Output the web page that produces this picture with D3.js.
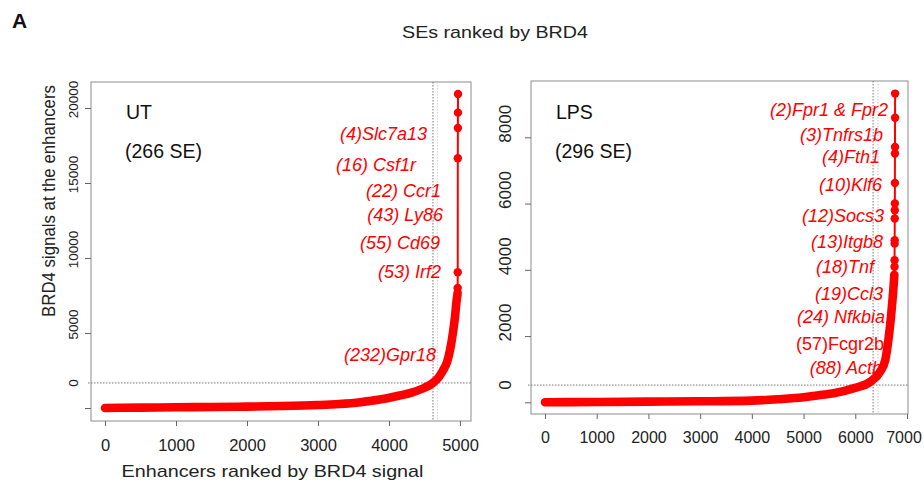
<!DOCTYPE html>
<html>
<head>
<meta charset="utf-8">
<script src="https://cdn.jsdelivr.net/npm/d3@7"></script>
<style>
body { margin: 0; background: #fff; }
svg { display: block; font-family: "Liberation Sans", Arial, sans-serif; }
</style>
</head>
<body>
<div id="chart"></div>
<script>
// UT panel: enhancers ranked by BRD4 signal
var utRank = [0, 500, 1000, 1500, 2000, 2500, 3000, 3300, 3600, 3870, 4100, 4340, 4500, 4620, 4700, 4760, 4820, 4860, 4900, 4930, 4953, 4962, 4966];
var utSignal = [0, 25, 45, 65, 90, 130, 200, 270, 390, 560, 780, 1060, 1350, 1680, 2050, 2500, 3100, 3870, 5000, 6100, 7200, 7500, 7670];
var utTopRank = [4967, 4968, 4969, 4970, 4971, 4972];
var utTopSignal = [8000, 9050, 16650, 18670, 19690, 20930];
var utXTicks = [0, 1000, 2000, 3000, 4000, 5000];
var utYTicks = [0, 5000, 10000, 15000, 20000];
var utThreshold = 1670;
var utCutRank = [4620, 4680];
var utGenes = ["(4)Slc7a13", "(16) Csf1r", "(22) Ccr1", "(43) Ly86", "(55) Cd69", "(53) Irf2", "(232)Gpr18"];
var utGeneRank = [4535, 4380, 4732, 4761, 4718, 4732, 4662];
var utGeneSignal = [17887, 15820, 14087, 12487, 10620, 8687, 3153];
var utGeneItalic = [true, true, true, true, true, true, true];

// LPS panel
var lpsRank = [0, 1000, 2000, 3000, 4000, 4500, 5000, 5320, 5580, 5960, 6290, 6480, 6580, 6640, 6690, 6720, 6745, 6755];
var lpsSignal = [0, 10, 20, 30, 50, 90, 150, 220, 270, 420, 620, 920, 1280, 1880, 2580, 3100, 3600, 3850];
var lpsTopRank = [6759, 6760, 6761, 6762, 6763, 6764, 6765, 6766, 6767, 6768, 6769, 6770];
var lpsTopSignal = [4090, 4290, 4790, 4890, 5550, 5800, 6000, 6620, 7510, 7710, 8590, 9320];
var lpsXTicks = [0, 1000, 2000, 3000, 4000, 5000, 6000, 7000];
var lpsYTicks = [0, 2000, 4000, 6000, 8000];
var lpsThreshold = 520;
var lpsCutRank = [6344, 6441];
var lpsGenes = ["(2)Fpr1 & Fpr2", "(3)Tnfrs1b", "(4)Fth1", "(10)Klf6", "(12)Socs3", "(13)Itgb8", "(18)Tnf", "(19)Ccl3", "(24) Nfkbia", "(57)Fcgr2b", "(88) Actb"];
var lpsGeneRank = [6634, 6538, 6480, 6518, 6557, 6538, 6364, 6538, 6576, 6557, 6518];
var lpsGeneSignal = [8652, 7897, 7233, 6388, 5452, 4667, 3912, 3097, 2403, 1588, 863];
var lpsGeneItalic = [true, true, true, true, true, true, true, true, true, false, true];

var FONT = "Liberation Sans, Arial, sans-serif";
var RED = "#ff0000";

var svg = d3.select("#chart").append("svg")
  .attr("width", 924)
  .attr("height", 483);

svg.append("rect").attr("width", 924).attr("height", 483).attr("fill", "#fff");

function drawPanel(p) {
  var x = d3.scaleLinear().domain(p.xDomain).range(p.xRange);
  var y = d3.scaleLinear().domain(p.yDomain).range(p.yRange);
  var g = svg.append("g");
  var left = p.box[0], top = p.box[1], right = p.box[2], bottom = p.box[3];

  // plot box
  g.append("rect")
    .attr("x", left).attr("y", top)
    .attr("width", right - left).attr("height", bottom - top)
    .attr("fill", "none").attr("stroke", "#8c8c8c").attr("stroke-width", 1);

  // x axis
  var xAxis = g.append("g")
    .attr("transform", `translate(0, ${bottom})`)
    .call(d3.axisBottom(x).tickValues(p.xTicks).tickSize(5).tickPadding(13).tickSizeOuter(0)
      .tickFormat(d => String(d)));
  xAxis.select(".domain").remove();
  xAxis.attr("font-size", p.xFont).attr("font-family", FONT);
  xAxis.selectAll("line").attr("stroke", "#666");
  xAxis.selectAll("text").attr("fill", "#222")
    .attr("dx", (d, i, n) => i === n.length - 1 ? p.lastXNudge : 0);

  // y axis, labels turned like R's las=0
  var yAxis = g.append("g")
    .attr("transform", `translate(${left}, 0)`)
    .call(d3.axisLeft(y).tickValues(p.yTicks).tickSize(6).tickSizeOuter(0)
      .tickFormat(d => d === 0 ? "" : String(d)));
  yAxis.select(".domain").remove();
  yAxis.attr("font-size", p.yFont).attr("font-family", FONT);
  yAxis.selectAll("line").attr("stroke", "#666");
  yAxis.selectAll("text")
    .attr("fill", "#222")
    .attr("transform", "rotate(-90)")
    .attr("text-anchor", "middle")
    .attr("x", p.yLabelShift)
    .attr("y", -p.yLabelDist)
    .attr("dy", "0.35em");

  // "0" sits on the threshold line
  g.append("text")
    .attr("transform", `translate(${left - p.yLabelDist}, ${y(p.threshold)}) rotate(-90)`)
    .attr("text-anchor", "middle")
    .attr("dy", "0.35em")
    .attr("font-size", p.yFont)
    .attr("fill", "#222")
    .text("0");

  // threshold lines
  g.append("line")
    .attr("x1", left - 3).attr("x2", right)
    .attr("y1", y(p.threshold)).attr("y2", y(p.threshold))
    .attr("stroke", "#777").attr("stroke-width", 1).attr("stroke-dasharray", "1.5,1.5");
  g.selectAll("line.cut")
    .data(p.cut)
    .enter()
    .append("line")
    .attr("class", "cut")
    .attr("x1", d => x(d)).attr("x2", d => x(d))
    .attr("y1", top).attr("y2", bottom)
    .attr("stroke", (d, i) => i === 0 ? "#777" : "#c8c8c8")
    .attr("stroke-width", 1)
    .attr("stroke-dasharray", "1.5,1.5");

  // bulk of enhancers: dense points merge into a thick band
  var bulk = d3.zip(p.rank, p.signal);
  var line = d3.line().x(d => x(d[0])).y(d => y(d[1]));
  g.append("path")
    .datum(bulk)
    .attr("d", line.curve(d3.curveMonotoneX))
    .attr("fill", "none")
    .attr("stroke", RED)
    .attr("stroke-width", 8.6)
    .attr("stroke-linejoin", "round")
    .attr("stroke-linecap", "round");

  // top ranked enhancers: separate points joined by a line
  var topPts = d3.zip(p.topRank, p.topSignal).sort((a, b) => a[0] - b[0]);
  g.append("path")
    .datum([bulk[bulk.length - 1]].concat(topPts))
    .attr("d", d3.line().x(d => x(d[0])).y(d => y(d[1])))
    .attr("fill", "none")
    .attr("stroke", RED)
    .attr("stroke-width", 2);
  g.selectAll("circle.top")
    .data(topPts)
    .enter()
    .append("circle")
    .attr("class", "top")
    .attr("cx", d => x(d[0]))
    .attr("cy", d => y(d[1]))
    .attr("r", 4.2)
    .attr("fill", RED);

  // gene labels
  g.selectAll("text.gene")
    .data(p.genes)
    .enter()
    .append("text")
    .attr("class", "gene")
    .attr("x", (d, i) => x(p.geneRank[i]))
    .attr("y", (d, i) => y(p.geneSignal[i]))
    .attr("text-anchor", "end")
    .attr("font-style", (d, i) => p.geneItalic[i] ? "italic" : "normal")
    .attr("font-size", 18)
    .attr("fill", RED)
    .text(d => d);

  // panel name and SE count
  g.append("text").attr("x", p.nameX).attr("y", 119).attr("font-size", 19.5).attr("fill", "#111").text(p.name);
  g.append("text").attr("x", p.nameX - 1).attr("y", 158).attr("font-size", 19.5).attr("fill", "#111").text(p.count);
}

drawPanel({
  xDomain: [0, 5000], xRange: [105, 460],
  yDomain: [0, 20000], yRange: [408, 108],
  box: [91, 82, 471, 421],
  xTicks: utXTicks, yTicks: utYTicks, xFont: 16.5, lastXNudge: 0,
  yFont: 13.5, yLabelDist: 17.5, yLabelShift: 9,
  threshold: utThreshold, cut: utCutRank,
  rank: utRank, signal: utSignal,
  topRank: utTopRank, topSignal: utTopSignal,
  genes: utGenes, geneRank: utGeneRank, geneSignal: utGeneSignal, geneItalic: utGeneItalic,
  name: "UT", count: "(266 SE)", nameX: 126
});

drawPanel({
  xDomain: [0, 7000], xRange: [545, 907],
  yDomain: [0, 8000], yRange: [402.3, 137.3],
  box: [531, 81, 908, 414],
  xTicks: lpsXTicks, yTicks: lpsYTicks, xFont: 16, lastXNudge: -3.5,
  yFont: 17, yLabelDist: 26, yLabelShift: 14,
  threshold: lpsThreshold, cut: lpsCutRank,
  rank: lpsRank, signal: lpsSignal,
  topRank: lpsTopRank, topSignal: lpsTopSignal,
  genes: lpsGenes, geneRank: lpsGeneRank, geneSignal: lpsGeneSignal, geneItalic: lpsGeneItalic,
  name: "LPS", count: "(296 SE)", nameX: 556
});

// figure texts
svg.append("text").attr("x", 12).attr("y", 28)
  .attr("font-size", 21).attr("font-weight", "bold").attr("fill", "#111").text("A");

svg.append("text").attr("x", 495).attr("y", 38)
  .attr("text-anchor", "middle").attr("font-size", 17)
  .attr("textLength", 186).attr("lengthAdjust", "spacingAndGlyphs")
  .attr("fill", "#222").text("SEs ranked by BRD4");

svg.append("text").attr("x", 272.5).attr("y", 477)
  .attr("text-anchor", "middle").attr("font-size", 17)
  .attr("textLength", 302).attr("lengthAdjust", "spacingAndGlyphs")
  .attr("fill", "#222").text("Enhancers ranked by BRD4 signal");

svg.append("text")
  .attr("transform", "translate(55, 201) rotate(-90)")
  .attr("text-anchor", "middle").attr("font-size", 18.5)
  .attr("textLength", 232).attr("lengthAdjust", "spacingAndGlyphs")
  .attr("fill", "#222").text("BRD4 signals at the enhancers");
</script>
</body>
</html>
